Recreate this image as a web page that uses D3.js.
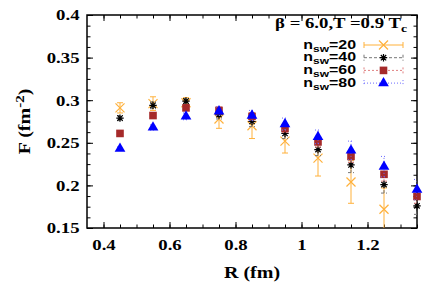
<!DOCTYPE html>
<html>
<head>
<meta charset="utf-8">
<script src="https://cdn.jsdelivr.net/npm/d3@7"></script>
<style>
  body { margin: 0; background: #fff; }
  svg text { font-family: "Liberation Serif", "Times New Roman", serif; font-weight: bold; }
  svg text.sans { font-family: "Liberation Sans", Arial, sans-serif; }
</style>
</head>
<body>
<div id="chart"></div>
<script>
// separations R (fm)
var rValues = [0.45, 0.55, 0.65, 0.75, 0.85, 0.95, 1.05, 1.15, 1.25, 1.35];

// F (fm^-2) for each smearing step count, with errors
var f20 = [0.291, 0.296, 0.297, 0.278, 0.270, 0.252, 0.232, 0.204, 0.172, null];
var e20 = [0.006, 0.008, 0.006, 0.011, 0.015, 0.014, 0.021, 0.025, 0.025, null];
var f40 = [0.279, 0.294, 0.299, 0.283, 0.275, 0.261, 0.242, 0.224, 0.201, 0.176];
var e40 = [0.003, 0.004, 0.003, 0.005, 0.006, 0.006, 0.007, 0.009, 0.010, 0.010];
var f60 = [0.261, 0.282, 0.291, 0.288, 0.281, 0.267, 0.251, 0.234, 0.213, 0.187];
var e60 = [0.002, 0.003, 0.003, 0.004, 0.004, 0.005, 0.006, 0.007, 0.008, 0.008];
var f80 = [0.243, 0.268, 0.281, 0.287, 0.282, 0.272, 0.257, 0.241, 0.222, 0.195];
var e80 = [0.002, 0.003, 0.004, 0.005, 0.006, 0.007, 0.008, 0.011, 0.012, 0.012];

var seriesNames = ["20", "40", "60", "80"];
var xTicks = [0.4, 0.6, 0.8, 1, 1.2];
var yTicks = [0.15, 0.2, 0.25, 0.3, 0.35, 0.4];

var margin = { top: 15, right: 19, bottom: 55, left: 87 },
    width = 436 - margin.left - margin.right,
    height = 283 - margin.top - margin.bottom;

var stretch = 1.25; // text in the original is drawn wide

var x = d3.scaleLinear().domain([0.35, 1.35]).range([0, width]);
var y = d3.scaleLinear().domain([0.15, 0.4]).range([height, 0]);

var svg = d3.select("#chart").append("svg")
    .attr("width", 436)
    .attr("height", 283)
    .append("g")
    .attr("transform", "translate(" + margin.left + "," + margin.top + ")");

svg.append("clipPath").attr("id", "clip")
    .append("rect").attr("width", width).attr("height", height);

// wide text anchored at (px, py)
function wideText(parent, px, py, anchor, size, k) {
    return parent.append("g")
        .attr("transform", "translate(" + px + "," + py + ") scale(" + (k || stretch) + ",1)")
        .append("text").attr("text-anchor", anchor).attr("font-size", size);
}

// gnuplot style asterisk: plus and cross together
var symbolStar = {
    draw: function(ctx, size) {
        var r = Math.sqrt(size) / 2, d = r * 0.72;
        ctx.moveTo(-r, 0); ctx.lineTo(r, 0);
        ctx.moveTo(0, -r); ctx.lineTo(0, r);
        ctx.moveTo(-d, -d); ctx.lineTo(d, d);
        ctx.moveTo(-d, d); ctx.lineTo(d, -d);
    }
};

// ticks (inside, mirrored)
var xMinor = d3.range(0.4, 1.351, 0.05);
var yMinor = d3.range(0.15, 0.4001, 0.0125);

function addAxis(axis, tr) {
    var g = svg.append("g").attr("transform", tr).call(axis);
    g.select(".domain").remove();
    g.selectAll("line").attr("stroke", "#000").attr("stroke-width", 1);
    return g;
}
addAxis(d3.axisBottom(x).tickValues(xMinor).tickSize(-3.5).tickFormat(""), "translate(0," + height + ")");
addAxis(d3.axisTop(x).tickValues(xMinor).tickSize(-3.5).tickFormat(""), "translate(0,0)");
addAxis(d3.axisLeft(y).tickValues(yMinor).tickSize(-3.5).tickFormat(""), "translate(0,0)");
addAxis(d3.axisRight(y).tickValues(yMinor).tickSize(-3.5).tickFormat(""), "translate(" + width + ",0)");
addAxis(d3.axisBottom(x).tickValues(xTicks).tickSize(-6).tickFormat(""), "translate(0," + height + ")");
addAxis(d3.axisTop(x).tickValues(xTicks).tickSize(-6).tickFormat(""), "translate(0,0)");
addAxis(d3.axisLeft(y).tickValues(yTicks).tickSize(-6).tickFormat(""), "translate(0,0)");
addAxis(d3.axisRight(y).tickValues(yTicks).tickSize(-6).tickFormat(""), "translate(" + width + ",0)");

// tick labels
var xl = addAxis(d3.axisBottom(x).tickValues(xTicks).tickSize(0).tickPadding(11).tickFormat(d3.format("")), "translate(0," + height + ")");
xl.selectAll("text").attr("font-size", 15).attr("fill", "#000")
    .attr("transform", "scale(" + stretch + ",1)");
var yl = addAxis(d3.axisLeft(y).tickValues(yTicks).tickSize(0).tickPadding(6).tickFormat(d3.format("")), "translate(0,0)");
yl.selectAll("text").attr("font-size", 15).attr("fill", "#000")
    .attr("transform", "scale(" + stretch + ",1)");

svg.append("rect")
    .attr("width", width).attr("height", height)
    .attr("fill", "none").attr("stroke", "#000").attr("stroke-width", 1.5);

// axis titles
wideText(svg, width / 2, height + 50, "middle", 16).text("R (fm)");

var yt = svg.append("g")
    .attr("transform", "translate(-57," + (height / 2) + ") rotate(-90) scale(" + stretch + ",1)")
    .append("text").attr("text-anchor", "middle").attr("font-size", 16);
yt.append("tspan").text("F (fm");
yt.append("tspan").attr("dy", -6).attr("font-size", 12).text("-2");
yt.append("tspan").attr("dy", 6).text(")");

// series
var styles = [
    { vals: f20, errs: e20, color: "#ffb13b", errColor: "#ffb13b", dash: null, sym: d3.symbolTimes, size: 55, fill: false },
    { vals: f40, errs: e40, color: "#000", errColor: "#777", dash: "3,2", sym: symbolStar, size: 55, fill: false },
    { vals: f60, errs: e60, color: "#a52a2a", errColor: "#e08080", dash: "2,2", sym: d3.symbolSquare, size: 58, fill: true },
    { vals: f80, errs: e80, color: "#0000ff", errColor: "#6a6aff", dash: "1,2", sym: d3.symbolTriangle, size: 50, fill: true }
];

styles.forEach(function(s) {
    var pts = rValues.map(function(r, i) { return { r: r, v: s.vals[i], e: s.errs[i] }; })
        .filter(function(d) { return d.v !== null; });

    var eg = svg.append("g").attr("clip-path", "url(#clip)")
        .attr("stroke", s.errColor).attr("stroke-width", 1)
        .attr("stroke-dasharray", s.dash);
    eg.selectAll(".ev").data(pts).enter().append("line")
        .attr("x1", function(d) { return x(d.r); }).attr("x2", function(d) { return x(d.r); })
        .attr("y1", function(d) { return y(d.v - d.e); }).attr("y2", function(d) { return y(d.v + d.e); });
    eg.selectAll(".et").data(pts).enter().append("line")
        .attr("x1", function(d) { return x(d.r) - 3; }).attr("x2", function(d) { return x(d.r) + 3; })
        .attr("y1", function(d) { return y(d.v + d.e); }).attr("y2", function(d) { return y(d.v + d.e); });
    eg.selectAll(".eb").data(pts).enter().append("line")
        .attr("x1", function(d) { return x(d.r) - 3; }).attr("x2", function(d) { return x(d.r) + 3; })
        .attr("y1", function(d) { return y(d.v - d.e); }).attr("y2", function(d) { return y(d.v - d.e); });

    svg.append("g").selectAll("path").data(pts).enter().append("path")
        .attr("transform", function(d) { return "translate(" + x(d.r) + "," + y(d.v) + ")"; })
        .attr("d", d3.symbol().type(s.sym).size(s.size))
        .attr("fill", s.fill ? s.color : "none")
        .attr("stroke", s.fill ? "none" : s.color)
        .attr("stroke-width", 1.2);
});

// title + legend
wideText(svg, width - 10, 13, "end", 15)
    .html("&#946; = 6.0,T =0.9 T<tspan dy='4' font-size='11'>c</tspan>");

var leg = svg.append("g").attr("transform", "translate(0,30)");
styles.forEach(function(s, i) {
    var row = leg.append("g").attr("transform", "translate(0," + (i * 12.7) + ")");
    var t = wideText(row, 269, 3.5, "end", 12, 1.33).attr("class", "sans");
    t.append("tspan").text("n");
    t.append("tspan").attr("dy", 3).attr("font-size", 9).text("sw");
    t.append("tspan").attr("dy", -3).text("=" + seriesNames[i]);

    row.append("line").attr("x1", 277).attr("x2", 316).attr("y1", 0).attr("y2", 0)
        .attr("stroke", s.errColor).attr("stroke-dasharray", s.dash);
    [277, 316].forEach(function(xx) {
        row.append("line").attr("x1", xx).attr("x2", xx).attr("y1", -3).attr("y2", 3)
            .attr("stroke", s.errColor).attr("stroke-dasharray", s.dash);
    });
    row.append("path").attr("transform", "translate(296.5,0)")
        .attr("d", d3.symbol().type(s.sym).size(s.size))
        .attr("fill", s.fill ? s.color : "none")
        .attr("stroke", s.fill ? "none" : s.color)
        .attr("stroke-width", 1.2);
});
</script>
</body>
</html>
